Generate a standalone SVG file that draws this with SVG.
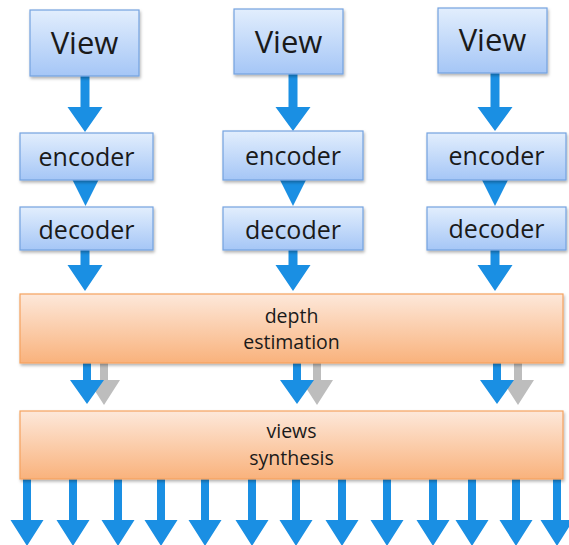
<svg xmlns="http://www.w3.org/2000/svg" width="569" height="545" viewBox="0 0 569 545">
<defs>
<linearGradient id="gb" x1="0" y1="0" x2="0" y2="1">
<stop offset="0" stop-color="#e2eefd"/>
<stop offset="1" stop-color="#a5c6f6"/>
</linearGradient>
<linearGradient id="go" x1="0" y1="0" x2="0" y2="1">
<stop offset="0" stop-color="#fde8da"/>
<stop offset="1" stop-color="#f9b27c"/>
</linearGradient>
<filter id="sh" x="-10%" y="-10%" width="120%" height="130%">
<feDropShadow dx="1" dy="2" stdDeviation="1.5" flood-color="#000" flood-opacity="0.3"/>
</filter>
</defs>
<style>
.b{fill:url(#gb);stroke:#74a2e0;stroke-width:1.2;filter:url(#sh)}
.o{fill:url(#go);stroke:#f5a25f;stroke-width:1.2;filter:url(#sh)}
text{font-family:"Open Sans","Liberation Sans",sans-serif;fill:#1a1a1a;text-anchor:middle}
.tv{font-size:31px}
.te{font-size:25px}
.to{font-size:19.5px}
.ab{fill:#1a8fe3}
.ag{fill:#bdbdbd}
</style>
<rect width="569" height="545" fill="#fff"/>
<g id="connectors">
<path class="ab" d="M80.5,76h9v31h13l-17.5,25l-17.5,-25h13z"/>
<path class="ab" d="M288.5,74h9v33h13l-17.5,24l-17.5,-24h13z"/>
<path class="ab" d="M490.5,73h9v34h13l-17.5,24l-17.5,-24h13z"/>
<path class="ab" d="M72.5,180h26l-13,26z"/>
<path class="ab" d="M280,180h26l-13,26z"/>
<path class="ab" d="M482,180h26l-13,26z"/>
<path class="ab" d="M80.5,250h9v15h13l-17.5,26l-17.5,-26h13z"/>
<path class="ab" d="M288.5,250h9v15h13l-17.5,26l-17.5,-26h13z"/>
<path class="ab" d="M490.5,250h9v15h13l-17.5,26l-17.5,-26h13z"/>
<path class="ag" d="M100,363h8v17h12l-16,25l-16,-25h12z"/>
<path class="ag" d="M313,363h8v17h12l-16,25l-16,-25h12z"/>
<path class="ag" d="M514,363h8v17h12l-16,25l-16,-25h12z"/>
<path class="ab" d="M83,363h8v17h13l-17,24l-17,-24h13z"/>
<path class="ab" d="M293,363h8v17h13l-17,24l-17,-24h13z"/>
<path class="ab" d="M493,363h8v17h13l-17,24l-17,-24h13z"/>
<g id="outputs">
<path class="ab" d="M23,479h8v41h12.5l-16.5,26l-16.5,-26h12.5z"/>
<path class="ab" d="M69,479h8v41h12.5l-16.5,26l-16.5,-26h12.5z"/>
<path class="ab" d="M114,479h8v41h12.5l-16.5,26l-16.5,-26h12.5z"/>
<path class="ab" d="M157,479h8v41h12.5l-16.5,26l-16.5,-26h12.5z"/>
<path class="ab" d="M201,479h8v41h12.5l-16.5,26l-16.5,-26h12.5z"/>
<path class="ab" d="M248,479h8v41h12.5l-16.5,26l-16.5,-26h12.5z"/>
<path class="ab" d="M292,479h8v41h12.5l-16.5,26l-16.5,-26h12.5z"/>
<path class="ab" d="M338,479h8v41h12.5l-16.5,26l-16.5,-26h12.5z"/>
<path class="ab" d="M383,479h8v41h12.5l-16.5,26l-16.5,-26h12.5z"/>
<path class="ab" d="M429,479h8v41h12.5l-16.5,26l-16.5,-26h12.5z"/>
<path class="ab" d="M468,479h8v41h12.5l-16.5,26l-16.5,-26h12.5z"/>
<path class="ab" d="M512,479h8v41h12.5l-16.5,26l-16.5,-26h12.5z"/>
<path class="ab" d="M553,479h8v41h12.5l-16.5,26l-16.5,-26h12.5z"/>
</g>
</g>
<g id="view1"><rect class="b" x="30" y="10" width="109" height="66"/><text class="tv" x="84.5" y="54">View</text></g>
<g id="view2"><rect class="b" x="234" y="9" width="109" height="65"/><text class="tv" x="288.5" y="53">View</text></g>
<g id="view3"><rect class="b" x="438" y="8" width="109" height="65"/><text class="tv" x="492.5" y="51">View</text></g>
<g id="encoder1"><rect class="b" x="20" y="133" width="133" height="47"/><text class="te" x="86.5" y="166">encoder</text></g>
<g id="encoder2"><rect class="b" x="223" y="131" width="140" height="49"/><text class="te" x="293" y="165">encoder</text></g>
<g id="encoder3"><rect class="b" x="427" y="133" width="139" height="47"/><text class="te" x="496.5" y="165">encoder</text></g>
<g id="decoder1"><rect class="b" x="20" y="207" width="133" height="43"/><text class="te" x="86.5" y="239">decoder</text></g>
<g id="decoder2"><rect class="b" x="223" y="207" width="140" height="43"/><text class="te" x="293" y="239">decoder</text></g>
<g id="decoder3"><rect class="b" x="427" y="207" width="139" height="43"/><text class="te" x="496.5" y="238">decoder</text></g>
<g id="depth"><rect class="o" x="20" y="294" width="543" height="69"/><text class="to" x="291.5" y="323">depth</text><text class="to" x="291.5" y="349">estimation</text></g>
<g id="synthesis"><rect class="o" x="20" y="411" width="543" height="68"/><text class="to" x="291.5" y="438">views</text><text class="to" x="291.5" y="465">synthesis</text></g>
</svg>
